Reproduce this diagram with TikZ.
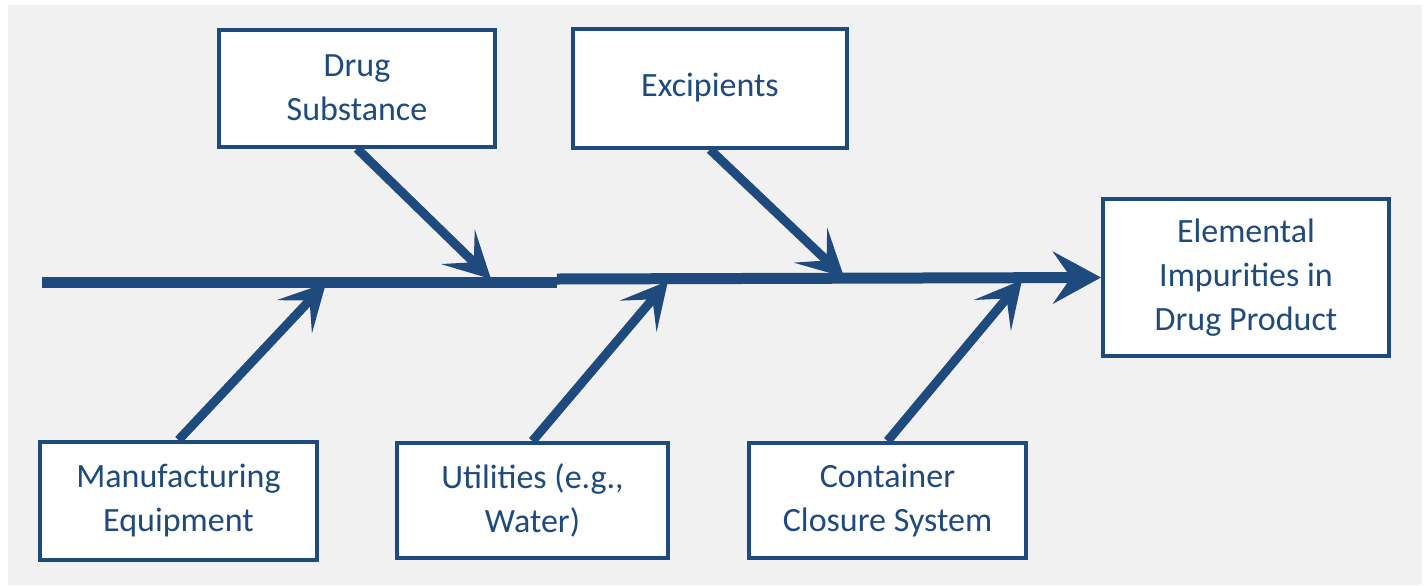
\documentclass[tikz,border=0pt]{standalone}
\usepackage{fontspec}
\setmainfont{Carlito}
\usetikzlibrary{arrows.meta}
\definecolor{fishblue}{HTML}{1F4A7E}
\definecolor{panel}{HTML}{F1F1F1}
\begin{document}
\begin{tikzpicture}[x=0.5pt,y=-0.5pt,
  causebox/.style={draw=fishblue, line width=2pt, fill=white, text=fishblue,
    align=center, inner sep=0pt,
    font=\fontsize{17}{22}\selectfont},
  bone/.style={draw=fishblue, line width=4.5pt,
    -{Stealth[length=23pt, width=24pt, inset=11pt]}},
  spine/.style={draw=fishblue, line width=5.5pt}]
  % canvas and grey panel
  \useasboundingbox (0,0) rectangle (1425,585);
  \fill[panel] (8,5) rectangle (1422,585);

  % cause boxes
  \node[causebox, minimum width=138pt, minimum height=58.5pt] (ds) at (357,88) {Drug\\Substance};
  \node[causebox, minimum width=137pt, minimum height=59.5pt] (ex) at (710,88) {Excipients};
  \node[causebox, minimum width=138.5pt, minimum height=59pt] (mf) at (178.5,501) {Manufacturing\\Equipment};
  \node[causebox, minimum width=135.5pt, minimum height=57.5pt] (ut) at (532.5,500.5) {Utilities (e.g.,\\Water)};
  \node[causebox, minimum width=138.5pt, minimum height=57.5pt] (cc) at (887.5,500.5) {Container\\Closure System};

  % effect box
  \node[causebox, minimum width=143pt, minimum height=78.5pt] (ep) at (1246,277.5) {Elemental\\Impurities in\\Drug Product};

  % spine coordinates
  \coordinate (tail) at (42,282);
  \coordinate (jl) at (557,282);
  \coordinate (jr) at (557,279);
  \coordinate (t1) at (491,279);
  \coordinate (t2) at (844,277);
  \coordinate (b1) at (326,283);
  \coordinate (b2) at (668,281);
  \coordinate (b3) at (1022,280);

  % spine
  \draw[spine] (tail) -- (jl);
  \draw[spine, -{Stealth[length=24pt, width=26pt, inset=9pt]}] (jr) -- (ep.west);

  % bones
  \draw[bone] (ds.south) -- (t1);
  \draw[bone] (ex.south) -- (t2);
  \draw[bone] (mf.north) -- (b1);
  \draw[bone] (ut.north) -- (b2);
  \draw[bone] (cc.north) -- (b3);
\end{tikzpicture}
\end{document}
